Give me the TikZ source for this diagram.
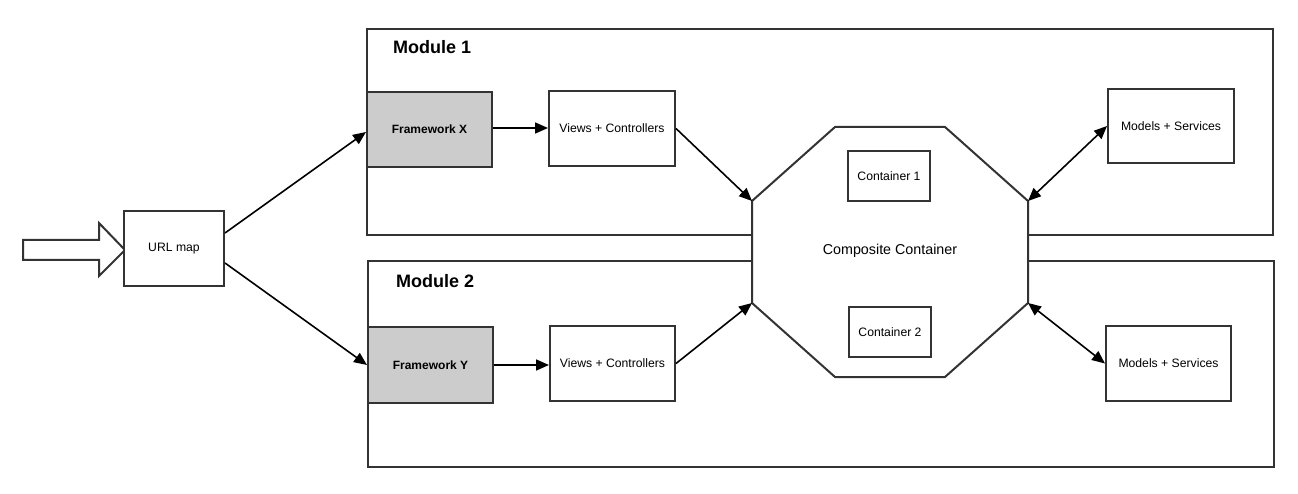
\documentclass[tikz,border=0pt]{standalone}
\usepackage{fontspec}
\setmainfont{Liberation Sans}
\usetikzlibrary{arrows.meta}
\definecolor{edge}{HTML}{333333}
\definecolor{fwfill}{HTML}{CCCCCC}
\begin{document}
\begin{tikzpicture}[x=1pt,y=-1pt,
  box/.style={draw=edge,line width=2pt,fill=white,inner sep=0pt,font=\fontsize{12.2}{14}\selectfont},
  fw/.style={box,fill=fwfill,font=\bfseries\fontsize{12}{14}\selectfont},
  modbox/.style={draw=edge,line width=2pt},
  modlabel/.style={font=\bfseries\fontsize{18}{20}\selectfont,anchor=west,inner sep=0pt},
  conn/.style={line width=1.6pt,-{Triangle[length=13pt,width=11pt]}},
  biconn/.style={line width=1.6pt,{Triangle[length=13pt,width=11pt]}-{Triangle[length=13pt,width=11pt]}}
]
\useasboundingbox (0,0) rectangle (1298,494);
% module frames
\draw[modbox] (367,29) rectangle (1273,235);
\draw[modbox] (368,261) rectangle (1274,467);
\node[modlabel] (m1) at (393,47) {Module 1};
\node[modlabel] (m2) at (396,281) {Module 2};
% input arrow
\draw[draw=edge,line width=2pt,fill=white] (23,240) -- (99,240) -- (99,223) -- (125,250) -- (99,276) -- (99,260) -- (23,260) -- cycle;
% nodes
\node[box,minimum width=100pt,minimum height=75pt] (url) at (174,248.5) {URL map};
\node[fw,minimum width=125pt,minimum height=75pt] (fx) at (429.5,129.5) {Framework X};
\node[fw,minimum width=125pt,minimum height=76pt] (fy) at (430.5,365) {Framework Y};
\node[box,minimum width=126pt,minimum height=75pt] (vc1) at (612,128.5) {Views + Controllers};
\node[box,minimum width=125pt,minimum height=75pt] (vc2) at (612.5,363.5) {Views + Controllers};
\node[box,minimum width=126pt,minimum height=74pt] (ms1) at (1171,126) {Models + Services};
\node[box,minimum width=125pt,minimum height=75pt] (ms2) at (1168.5,363.5) {Models + Services};
% octagon
\draw[draw=edge,line width=2pt,fill=white] (835,127) -- (945,127) -- (1028,201) -- (1028,303) -- (945,377) -- (835,377) -- (752,303) -- (752,201) -- cycle;
\coordinate (oul) at (752,201);
\coordinate (oll) at (752,303);
\coordinate (our) at (1028,201);
\coordinate (olr) at (1028,303);
\node[font=\fontsize{14.3}{16}\selectfont] (cc) at (890,251) {Composite Container};
\node[box,minimum width=82pt,minimum height=50pt] (c1) at (889,176) {Container 1};
\node[box,minimum width=82pt,minimum height=50pt] (c2) at (890,332) {Container 2};
% connectors
\draw[conn] (url.east |- 0,233) -- (fx.west |- 0,132);
\draw[conn] (url.east |- 0,263) -- (fy.west |- 0,365);
\draw[conn] (fx.east |- 0,128) -- (vc1.west |- 0,128);
\draw[conn] (fy.east) -- (vc2.west |- fy.east);
\draw[conn] (vc1.east) -- (oul);
\draw[conn] (vc2.east) -- (oll);
\draw[biconn] (our) -- (ms1.west);
\draw[biconn] (olr) -- (ms2.west);
\end{tikzpicture}
\end{document}
